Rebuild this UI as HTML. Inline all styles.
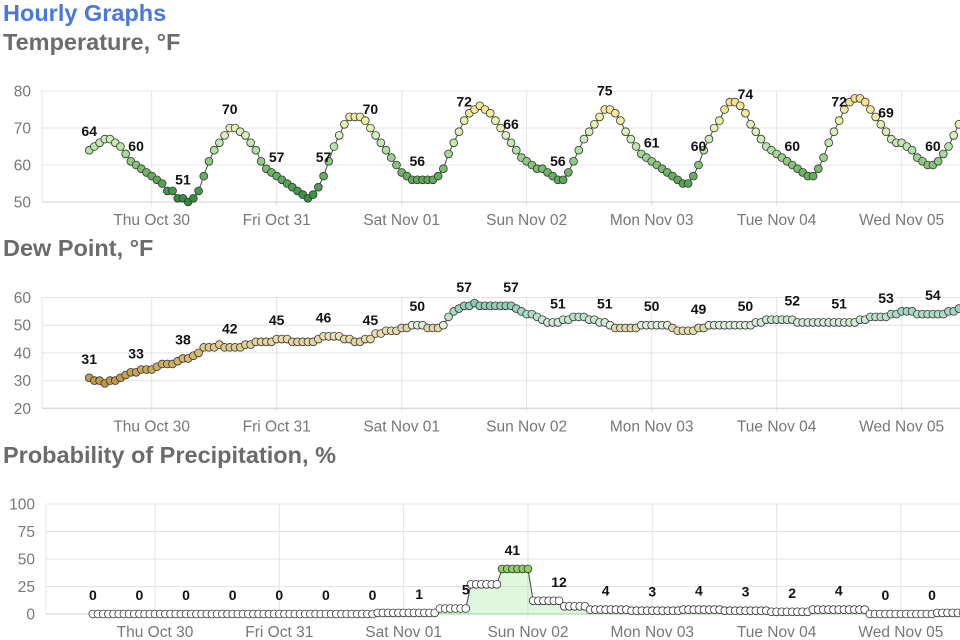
<!DOCTYPE html>
<html><head><meta charset="utf-8">
<style>
body{margin:0;background:#fff;width:960px;height:640px;overflow:hidden;font-family:"Liberation Sans",Arial,sans-serif;}
.h{position:absolute;left:3px;font-weight:bold;font-size:23.5px;margin:0;white-space:nowrap;}
</style></head>
<body>
<div class="h" style="top:0px;color:#4a78d8;">Hourly Graphs</div>
<div class="h" style="top:29px;color:#6b6b6b;">Temperature, °F</div>
<div class="h" style="top:235px;color:#6b6b6b;">Dew Point, °F</div>
<div class="h" style="top:442px;color:#6b6b6b;">Probability of Precipitation, %</div>
<svg id="svg" width="960" height="640" style="position:absolute;left:0;top:0"></svg>
<script>
const dayLabels = ["Thu Oct 30","Fri Oct 31","Sat Nov 01","Sun Nov 02","Mon Nov 03","Tue Nov 04","Wed Nov 05"];
const tempTicks = [50,60,70,80];
const dewTicks = [20,30,40,50,60];
const popTicks = [0,25,50,75,100];
const tempValues = [64,65,66,67,67,66,65,63,61,60,59,58,57,56,55,53,53,51,51,50,51,53,57,61,64,66,68,70,70,69,68,66,64,61,59,58,57,56,55,54,53,52,51,52,54,57,61,65,68,71,73,73,73,72,70,68,66,64,62,60,58,57,56,56,56,56,56,57,59,63,66,69,72,74,75,76,75,74,72,70,68,66,64,62,61,60,59,59,58,57,56,56,58,61,64,67,69,71,73,75,75,74,72,69,67,65,63,62,61,60,59,58,57,56,55,55,57,60,64,67,70,72,75,77,77,76,74,71,69,67,65,64,63,62,61,60,59,58,57,57,59,62,66,69,72,75,77,78,78,77,75,73,71,69,67,66,66,65,64,62,61,60,60,61,63,65,68,71,74,76];
const dewValues = [31,30,30,29,30,30,31,32,33,33,34,34,34,35,36,36,36,37,38,38,39,40,42,42,42,43,42,42,42,42,43,43,44,44,44,44,45,45,45,44,44,44,44,44,45,46,46,46,46,45,45,44,44,45,45,47,47,48,48,48,49,49,50,50,50,49,49,49,50,53,55,56,57,57,58,57,57,57,57,57,57,57,56,55,54,54,53,52,51,51,51,52,52,53,53,53,52,52,51,51,50,49,49,49,49,49,50,50,50,50,50,50,49,48,48,48,48,49,49,50,50,50,50,50,50,50,50,50,51,51,52,52,52,52,52,52,51,51,51,51,51,51,51,51,51,51,51,51,52,52,53,53,53,53,54,54,55,55,55,54,54,54,54,54,54,55,55,56,56];
const popValues = [0,0,0,0,0,0,0,0,0,0,0,0,0,0,0,0,0,0,0,0,0,0,0,0,0,0,0,0,0,0,0,0,0,0,0,0,0,0,0,0,0,0,0,0,0,0,0,0,0,0,0,0,0,0,0,1,1,1,1,1,1,1,1,1,1,1,1,5,5,5,5,5,5,27,27,27,27,27,27,41,41,41,41,41,41,12,12,12,12,12,12,7,7,7,7,7,4,4,4,4,4,4,4,4,3,3,3,3,3,3,3,3,3,3,4,4,4,4,4,4,4,4,3,3,3,3,3,3,3,3,3,2,2,2,2,2,2,2,2,4,4,4,4,4,4,4,4,4,4,4,0,0,0,0,0,0,0,0,0,0,0,0,0,1,1,1,1,1,1];
const startHour = 12; // data begins Oct 29 12:00

const NS="http://www.w3.org/2000/svg";
const svg=document.getElementById('svg');
function mk(tag,attrs,parent){const e=document.createElementNS(NS,tag);for(const k in attrs)e.setAttribute(k,attrs[k]);(parent||svg).appendChild(e);return e;}
function lerpC(a,b,t){return 'rgb('+a.map((v,i)=>Math.round(v+(b[i]-v)*t)).join(',')+')';}
function ramp(stops,v){if(v<=stops[0][0])return lerpC(stops[0][1],stops[0][1],0);for(let i=1;i<stops.length;i++){if(v<=stops[i][0]){const t=(v-stops[i-1][0])/(stops[i][0]-stops[i-1][0]);return lerpC(stops[i-1][1],stops[i][1],t);}}return lerpC(stops[stops.length-1][1],stops[stops.length-1][1],0);}
const tempStops=[[50,[46,135,60]],[58,[110,180,100]],[64,[175,225,160]],[68,[215,240,190]],[72,[240,240,165]],[78,[245,225,140]]];
const dewStops=[[29,[190,150,70]],[40,[215,190,120]],[46,[235,225,180]],[49,[225,215,170]],[50,[225,240,220]],[54,[175,220,200]],[58,[140,200,175]]];
function popColor(v){return v>=35?'#8fcf6a':'#fff';}

function chart(o){
  const g=mk('g',{});
  
  
  const x=h=>o.x0+(h-24)*o.pph;
  const y=v=>o.yTop+(o.max-v)/(o.max-o.min)*(o.yBot-o.yTop);
  o.ticks.forEach(t=>{
    mk('line',{x1:o.left,x2:960,y1:y(t),y2:y(t),stroke:'#e4e4e4','stroke-width':1},g);
    const tl=mk('text',{x:o.left-11,y:y(t)+5.5,'text-anchor':'end','font-size':15.5,fill:'#777'},g);
    tl.textContent=t;
    
    
  });
  mk('line',{x1:o.left,x2:o.left,y1:o.yTop,y2:o.yBot,stroke:'#e4e4e4'},g);
  dayLabels.forEach((d,i)=>{
    const xx=x(24*(i+1));
    mk('line',{x1:xx,x2:xx,y1:o.yTop,y2:o.yBot+4,stroke:'#e4e4e4'},g);
    const tl=mk('text',{x:xx,y:o.yBot+23,'text-anchor':'middle','font-size':15.5,fill:'#777'},g);
    tl.textContent=d;
    
    
  });
  mk('line',{x1:o.left,x2:960,y1:o.yBot,y2:o.yBot,stroke:'#d0d0d0'},g);
  const pts=o.data.map((v,i)=>[x(startHour+i),y(v)]);
  if(o.fill){
    const d='M'+pts[0][0]+','+y(o.min)+pts.map(p=>'L'+p[0]+','+p[1]).join('')+'L'+pts[pts.length-1][0]+','+y(o.min)+'Z';
    const a=mk('path',{d:d,fill:'rgba(150,230,140,0.3)',stroke:'rgba(120,200,110,0.6)','stroke-width':0.8},g);
    
    
  }
  const line=mk('polyline',{points:pts.map(p=>p.join(',')).join(' '),fill:'none',stroke:'#444','stroke-width':1},g);
  
  
  pts.forEach((p,i)=>{
    const c=mk('circle',{cx:p[0],cy:p[1],r:3.9,fill:o.color(o.data[i]),stroke:'#333','stroke-width':0.8},g);
    
    
  });
  pts.forEach((p,i)=>{
    if(i%9===0){
      const t=mk('text',{x:p[0],y:p[1]-14,'text-anchor':'middle','font-size':14,'font-weight':'bold',fill:'#111'},g);
      t.textContent=o.data[i];
      
      
    }
  });
}
chart({name:'temperature-chart',data:tempValues,ticks:tempTicks,min:50,max:80,yTop:91,yBot:202,left:42,x0:151.7,pph:5.208,color:v=>ramp(tempStops,v)});
chart({name:'dew-point-chart',data:dewValues,ticks:dewTicks,min:20,max:60,yTop:297.5,yBot:408.3,left:42,x0:151.7,pph:5.208,color:v=>ramp(dewStops,v)});
chart({name:'precipitation-chart',data:popValues,ticks:popTicks,min:0,max:100,yTop:504,yBot:614,left:46,x0:155,pph:5.18,color:popColor,fill:true});
</script>
</body></html>
